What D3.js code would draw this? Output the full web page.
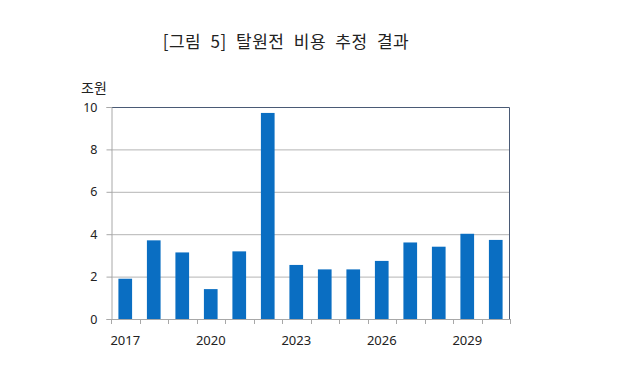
<!DOCTYPE html>
<html>
<head>
<meta charset="utf-8">
<script src="https://cdn.jsdelivr.net/npm/d3@7"></script>
<style>
  body { margin: 0; background: #fff; }
  text { font-family: "Noto Sans", "Noto Sans CJK KR", sans-serif; fill: #222; }
  .kr { font-family: "Noto Sans CJK KR", sans-serif; }
</style>
</head>
<body>
<svg id="chart" width="640" height="385"></svg>
<script>
var years = [2017, 2018, 2019, 2020, 2021, 2022, 2023, 2024, 2025, 2026, 2027, 2028, 2029, 2030];
var costs = [1.9, 3.71, 3.14, 1.41, 3.19, 9.72, 2.55, 2.34, 2.34, 2.74, 3.61, 3.41, 4.02, 3.73];
var yTicks = [0, 2, 4, 6, 8, 10];
var xLabels = [2017, 2020, 2023, 2026, 2029];

var svg = d3.select("#chart");
var margin = { top: 107, right: 130, bottom: 66, left: 111 },
  width = 640 - margin.left - margin.right,
  height = 385 - margin.top - margin.bottom;

var x = d3.scaleBand().domain(years).range([0, width]).paddingInner(0.52).paddingOuter(0.26);
var y = d3.scaleLinear().domain([0, 10]).range([height, 0]);

// title
svg.append("text")
  .attr("class", "kr")
  .attr("x", 286).attr("y", 48)
  .attr("text-anchor", "middle")
  .style("font-size", "17px")
  .style("word-spacing", "5px")
  .style("letter-spacing", "0.5px")
  .text("[그림 5] 탈원전 비용 추정 결과");

svg.append("text")
  .attr("class", "kr")
  .attr("x", 81).attr("y", 93)
  .style("font-size", "14px")
  .text("조원");

var g = svg.append("g")
  .attr("transform", "translate(" + margin.left + "," + margin.top + ")");

// gridlines
g.selectAll(".grid")
  .data(yTicks.filter(function(d) { return d > 0 && d < 10; }))
  .enter().append("line")
  .attr("x1", 0).attr("x2", width)
  .attr("y1", function(d) { return y(d) + 0.5; })
  .attr("y2", function(d) { return y(d) + 0.5; })
  .attr("stroke", "#b4b4b4");

// bars
g.selectAll(".bar")
  .data(years)
  .enter().append("rect")
  .attr("class", "bar")
  .attr("x", function(d) { return x(d); })
  .attr("y", function(d, i) { return y(costs[i]); })
  .attr("width", x.bandwidth())
  .attr("height", function(d, i) { return height - y(costs[i]); })
  .attr("fill", "#0a6ec2");

// top and right border
g.append("path")
  .attr("d", "M0," + 0.5 + "H" + (width - 0.5) + "V" + height)
  .attr("fill", "none")
  .attr("stroke", "#4a5a75");

// y axis
var yAxis = g.append("g")
  .attr("transform", "translate(0.5,0)")
  .call(d3.axisLeft(y).tickValues(yTicks).tickSize(5).tickPadding(9));
yAxis.select(".domain").attr("stroke", "#a8a8a8");
yAxis.selectAll(".tick line").attr("stroke", "#a8a8a8");
yAxis.selectAll("text").style("font-size", "12.5px").attr("fill", "#222");

// x axis: ticks on category boundaries
var step = x.step();
var bounds = d3.range(years.length + 1).map(function(i) { return i * step; });
var xg = g.append("g").attr("transform", "translate(0," + height + ")");
xg.append("line")
  .attr("x1", 0).attr("x2", width)
  .attr("y1", 0.5).attr("y2", 0.5)
  .attr("stroke", "#a8a8a8");
xg.selectAll(".xtick")
  .data(bounds)
  .enter().append("line")
  .attr("x1", function(d) { return Math.round(d) + 0.5; })
  .attr("x2", function(d) { return Math.round(d) + 0.5; })
  .attr("y1", 0).attr("y2", 5)
  .attr("stroke", "#a8a8a8");
xg.selectAll(".xlabel")
  .data(xLabels)
  .enter().append("text")
  .attr("x", function(d) { return x(d) + x.bandwidth() / 2; })
  .attr("y", 26)
  .attr("text-anchor", "middle")
  .style("font-size", "13px")
  .text(function(d) { return d; });
</script>
</body>
</html>
